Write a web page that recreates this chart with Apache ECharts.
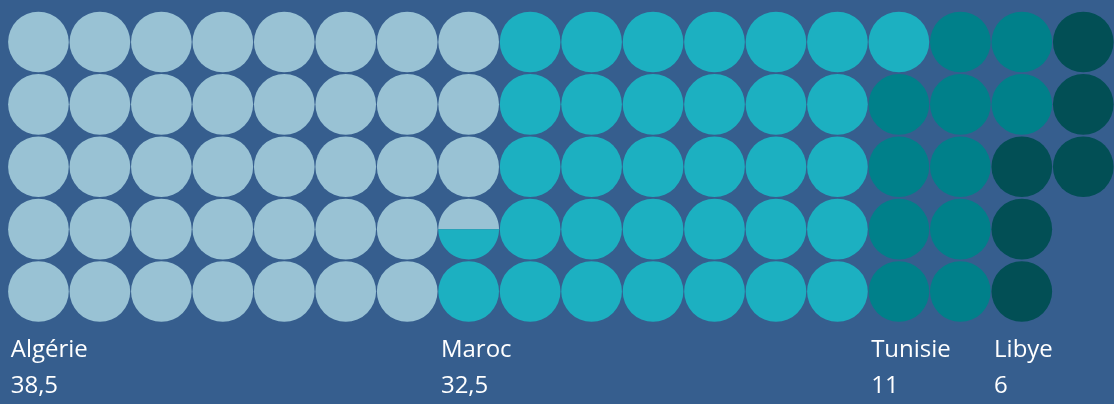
<!DOCTYPE html>
<html>
<head>
<meta charset="utf-8">
<script src="https://cdn.jsdelivr.net/npm/echarts@6/dist/echarts.min.js"></script>
<style>
  html, body { margin: 0; padding: 0; background: #365e8e; }
  #main { width: 1114px; height: 404px; }
</style>
</head>
<body>
<div id="main"></div>
<script>
    // data
    var countries = ['Algérie', 'Maroc', 'Tunisie', 'Libye'];
    var values = [38.5, 32.5, 11, 6];
    var valueLabels = ['38,5', '32,5', '11', '6'];
    var colors = ['#99c2d4', '#1cb0c1', '#00808a', '#024f55'];
    var ROWS = 5;

    var chartDom = document.getElementById('main');
    var myChart = echarts.init(chartDom);

    // one item per (partial) circle: [col, row, from, to, country]
    var cells = [];
    var starts = [];
    var cum = 0;
    values.forEach(function (v, ci) {
        var s = cum, e = cum + v;
        starts.push([Math.floor(s / ROWS), ci]);
        for (var i = Math.floor(s); i < Math.ceil(e); i++) {
            var a = Math.max(s, i) - i;
            var b = Math.min(e, i + 1) - i;
            cells.push([Math.floor(i / ROWS), i % ROWS, a, b, ci]);
        }
        cum = e;
    });
    var nCols = Math.ceil(cum / ROWS);

    function renderCell(params, api) {
        var c = api.coord([api.value(0), api.value(1)]);
        var size = api.size([1, 1]);
        var r = Math.min(size[0], size[1]) / 2 - 0.4;
        var a = api.value(2), b = api.value(3);
        var fill = colors[api.value(4)];
        if (a <= 0 && b >= 1) {
            return { type: 'circle', shape: { cx: c[0], cy: c[1], r: r }, style: { fill: fill } };
        }
        // horizontal slice of the circle, from top fraction a to b
        var y1 = c[1] - r + 2 * r * a;
        var y2 = c[1] - r + 2 * r * b;
        var pts = [], right = [];
        var steps = 40;
        for (var k = 0; k <= steps; k++) {
            var y = y1 + (y2 - y1) * k / steps;
            var dx = Math.sqrt(Math.max(0, r * r - (y - c[1]) * (y - c[1])));
            pts.push([c[0] - dx, y]);
            right.unshift([c[0] + dx, y]);
        }
        return { type: 'polygon', shape: { points: pts.concat(right) }, style: { fill: fill } };
    }

    function renderLabel(params, api) {
        var ci = api.value(1);
        var c = api.coord([api.value(0), 0]);
        var size = api.size([1, 1]);
        var r = Math.min(size[0], size[1]) / 2;
        var bottom = api.coord([0, ROWS - 0.5])[1];
        var x = c[0] - r + 3;
        return {
            type: 'group',
            children: [{
                type: 'text',
                style: { text: countries[ci], x: x, y: bottom + 27, fill: '#ffffff',
                    font: '24px "Open Sans"', align: 'left', verticalAlign: 'middle' }
            }, {
                type: 'text',
                style: { text: valueLabels[ci], x: x, y: bottom + 63, fill: '#ffffff',
                    font: '24px "Open Sans"', align: 'left', verticalAlign: 'middle' }
            }]
        };
    }

    var option = {
        backgroundColor: '#365e8e',
        animation: false,
        grid: { left: 7.7, right: -2.3, top: 10.8, bottom: 81.3 },
        xAxis: { type: 'value', min: -0.5, max: nCols - 0.5, show: false },
        yAxis: { type: 'value', min: -0.5, max: ROWS - 0.5, inverse: true, show: false },
        series: [
            { type: 'custom', renderItem: renderCell, data: cells, clip: false },
            { type: 'custom', renderItem: renderLabel, data: starts, clip: false }
        ]
    };

    myChart.setOption(option);
</script>
</body>
</html>
